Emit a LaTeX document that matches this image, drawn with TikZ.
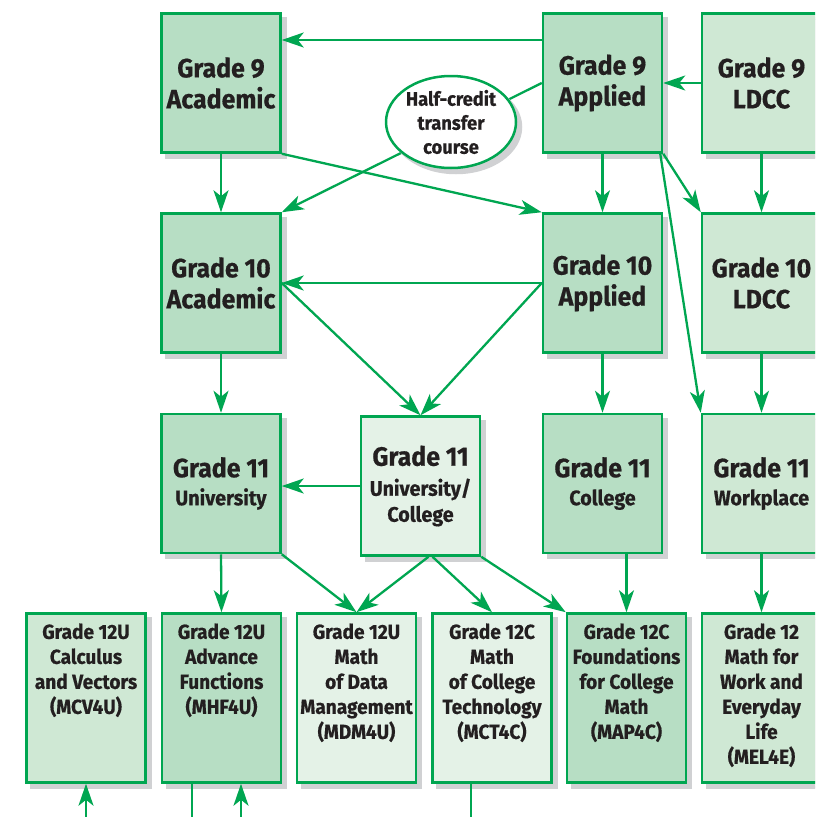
\documentclass[tikz,border=0pt]{standalone}
\usepackage{fontspec}
\setmainfont{Fira Sans}[FakeStretch=0.94, BoldFeatures={FakeBold=0.6}]
\usetikzlibrary{arrows.meta,shapes.geometric,shadows,calc}
\definecolor{gr}{HTML}{00A651}
\definecolor{fmid}{HTML}{B7DEC4}
\definecolor{flight}{HTML}{CFE8D4}
\definecolor{flest}{HTML}{E4F2E7}
\definecolor{shd}{HTML}{D0D1D3}
\definecolor{ink}{HTML}{231F20}
\newcommand\subsz{\fontsize{21}{26}\selectfont}
\begin{document}
\begin{tikzpicture}[x=1pt,y=-1pt,
  shad/.style={drop shadow={shadow xshift=5pt, shadow yshift=-5pt, fill=shd, draw=shd, line width=2.5pt, opacity=1}},
  box/.style={draw=gr, line width=2.5pt, minimum width=119pt, inner sep=0pt, text=ink, align=center, shad},
  tall/.style={box, minimum height=139pt},
  low/.style={box, minimum height=169pt},
  mid/.style={fill=fmid}, light/.style={fill=flight}, pale/.style={fill=flest},
  big/.style={font=\fontsize{26.5}{31}\selectfont\bfseries},
  lbl/.style={text=ink, align=center, inner sep=0pt, font=\fontsize{20.3}{25}\selectfont\bfseries},
  arr/.style={draw=gr, line width=2.3pt, -{Stealth[length=22pt,width=15pt,inset=6pt]}},
  ln/.style={draw=gr, line width=2.3pt}
]
\clip (0,0) rectangle (815,817);
\fill[white] (0,0) rectangle (815,817);
% row 1
\node[tall,mid,big] (ac9) at (221,83) {Grade 9\\Academic};
\node[tall,mid,big] (ap9) at (602.5,83) {Grade 9\\Applied};
\node[tall,light,big] (ld9) at (761.5,83) {Grade 9\\LDCC};
% row 2
\node[tall,mid,big] (ac10) at (221,283) {Grade 10\\Academic};
\node[tall,mid,big] (ap10) at (602.5,283) {Grade 10\\Applied};
\node[tall,light,big] (ld10) at (761.5,283) {Grade 10\\LDCC};
% row 3
\node[tall,mid,big] (un11) at (221,483.5) {Grade 11\\[-3pt]{\subsz University}};
\node[tall,pale,big] (uc11) at (420.5,486) {Grade 11\\[-1pt]{\subsz University/}\\[-5pt]{\subsz College}};
\node[tall,mid,big] (co11) at (602.5,483.5) {Grade 11\\[-3pt]{\subsz College}};
\node[tall,light,big] (wp11) at (761.5,483.5) {Grade 11\\[-3pt]{\subsz Workplace}};
% row 4
\node[low,light] (mcv) at (86,698) {};
\node[low,mid] (mhf) at (221.5,698) {};
\node[low,pale] (mdm) at (356.5,698) {};
\node[low,pale] (mct) at (492,698) {};
\node[low,mid] (map) at (626.5,698) {};
\node[low,light] (mel) at (761.5,698) {};
\node[lbl,anchor=north] (mcvt) at ([yshift=-11pt]mcv.north) {Grade 12U\\Calculus\\and Vectors\\(MCV4U)};
\node[lbl,anchor=north] (mhft) at ([yshift=-11pt]mhf.north) {Grade 12U\\Advance\\Functions\\(MHF4U)};
\node[lbl,anchor=north] (mdmt) at ([yshift=-11pt]mdm.north) {Grade 12U\\Math\\of Data\\Management\\(MDM4U)};
\node[lbl,anchor=north] (mctt) at ([yshift=-11pt]mct.north) {Grade 12C\\Math\\of College\\Technology\\(MCT4C)};
\node[lbl,anchor=north] (mapt) at ([yshift=-11pt]map.north) {Grade 12C\\Foundations\\for College\\Math\\(MAP4C)};
\node[lbl,anchor=north] (melt) at ([yshift=-11pt]mel.north) {Grade 12\\Math for\\Work and\\Everyday\\Life\\(MEL4E)};
% connectors
\draw[arr] ([yshift=43pt]ap9.west) -- ([yshift=43pt]ac9.east);
\draw[arr] (ld9.west) -- (ap9.east);
\draw[arr] (ac9.south) -- (ac10.north);
\draw[arr] (ac9.south east) -- (ap10.north west);
\draw[arr] (ap9.west) -- (ac10.north east);
\draw[arr] (ap9.south) -- (ap10.north);
\draw[arr] (ap9.south east) -- (ld10.north west);
\draw[arr] ([xshift=-3pt]ap9.south east) -- (wp11.north west);
\draw[arr] (ld9.south) -- (ld10.north);
\draw[arr] (ap10.west) -- (ac10.east);
\draw[arr] (ac10.east) -- (uc11.north);
\draw[arr] (ap10.west) -- (uc11.north);
\draw[arr] (ac10.south) -- (un11.north);
\draw[arr] (ap10.south) -- (co11.north);
\draw[arr] (ld10.south) -- (wp11.north);
\draw[arr] (uc11.west) -- (un11.east |- uc11.west);
\draw[arr] (un11.south) -- (mhf.north);
\draw[arr] (un11.south east) -- (mdm.north);
\draw[arr] ([xshift=8pt]uc11.south) -- (mdm.north);
\draw[arr] ([xshift=12pt]uc11.south) -- (mct.north);
\draw[arr] (uc11.south east) -- (map.north west);
\draw[arr] (map.north |- co11.south) -- (map.north);
\draw[arr] (wp11.south) -- (mel.north);
% free ends at the bottom
\coordinate (b1) at (86,830);
\coordinate (b2) at (241,830);
\coordinate (b3) at (192,830);
\coordinate (b4) at (471,830);
\draw[arr] (b1) -- (mcv.south);
\draw[arr] (b2) -- (mhf.south -| b2);
\draw[ln] (mhf.south -| b3) -- (b3);
\draw[ln] (mct.south -| b4) -- (b4);
% half-credit ellipse
\node[ellipse, draw=gr, line width=2.5pt, fill=white, minimum width=130pt, minimum height=92pt, inner sep=0pt, align=center, text=ink, shad, font=\fontsize{19.5}{24}\selectfont\bfseries] (hc) at (451,122) {Half-credit\\transfer\\course};
\end{tikzpicture}
\end{document}
